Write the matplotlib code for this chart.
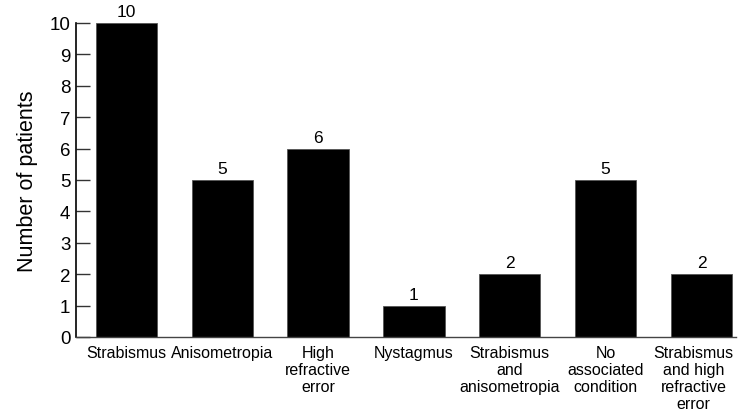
import matplotlib
matplotlib.use("Agg")
import matplotlib.pyplot as plt
from matplotlib.transforms import ScaledTranslation

categories = ["Strabismus", "Anisometropia", "High\nrefractive\nerror", "Nystagmus",
              "Strabismus\nand\nanisometropia", "No\nassociated\ncondition",
              "Strabismus\nand high\nrefractive\nerror"]
values = [10, 5, 6, 1, 2, 5, 2]
yticks = list(range(0, 11))

plt.rcParams['font.family'] = ['Liberation Sans', 'DejaVu Sans']

fig = plt.figure(figsize=(7.38, 4.14), dpi=100)
ax = fig.add_axes([76/738, 1-338/414, (736-76)/738, (338-24)/414])

x = list(range(len(values)))
ax.bar(x, values, width=0.64, color='black', edgecolor='#555555', linewidth=0.6)
for xi, v in zip(x, values):
    ax.text(xi, v + 0.12, str(v), ha='center', va='bottom', fontsize=12.5, clip_on=False)

ax.set_xlim(-0.526, 6.36)
ax.set_ylim(0, 10)
ax.set_yticks(yticks)
ax.set_yticklabels([str(t) for t in yticks], fontsize=13.5)
ax.tick_params(axis='y', direction='in', length=10, width=1.0, color='#333333', pad=4)
ax.set_xticks(x)
ax.set_xticklabels(categories, fontsize=11.5, linespacing=1.16)
ax.tick_params(axis='x', length=0, pad=6)
last = ax.get_xticklabels()[-1]
last.set_transform(last.get_transform() + ScaledTranslation(-8/100, 0, fig.dpi_scale_trans))
ax.set_ylabel("Number of patients", fontsize=15.5, labelpad=8)
ax.spines['top'].set_visible(False)
ax.spines['right'].set_visible(False)
ax.spines['left'].set_linewidth(1.2)
ax.spines['bottom'].set_linewidth(1.0)
ax.spines['bottom'].set_color('#444444')

fig.savefig("out.png", dpi=100)
